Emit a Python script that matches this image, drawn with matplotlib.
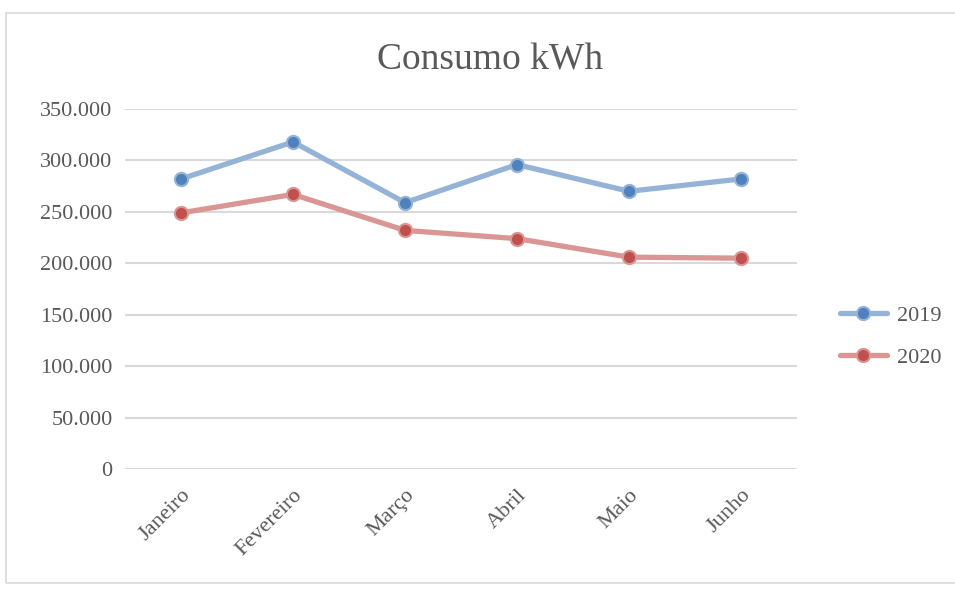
import matplotlib.pyplot as plt
from matplotlib.patches import Rectangle
from matplotlib.ticker import FuncFormatter

plt.rcParams['font.family'] = ['Liberation Serif', 'DejaVu Serif']

meses = ["Janeiro", "Fevereiro", "Março", "Abril", "Maio", "Junho"]
consumo_2019 = [282000, 318000, 259000, 296000, 270000, 282000]
consumo_2020 = [249000, 267000, 232000, 224000, 206000, 205000]

fig = plt.figure(figsize=(9.55, 5.89), dpi=100)
ax = fig.add_axes([0.1309, 0.2037, 0.7037, 0.6112])

# chart frame
fig.patches.append(Rectangle((0.006, 0.01), 1.2, 0.968, transform=fig.transFigure,
                             fill=False, edgecolor='#D9D9D9', linewidth=1.2))

x = range(len(meses))
ax.plot(x, consumo_2019, color='#95B3D7', linewidth=3.8, marker='o', markersize=9.5,
        markerfacecolor='#4F81BD', markeredgecolor='#95B3D7', markeredgewidth=1.5,
        label='2019', solid_capstyle='round')
ax.plot(x, consumo_2020, color='#D99694', linewidth=3.8, marker='o', markersize=9.5,
        markerfacecolor='#C0504D', markeredgecolor='#D99694', markeredgewidth=1.5,
        label='2020', solid_capstyle='round')

ax.set_xlim(-0.5, len(meses) - 0.5)
ax.set_ylim(0, 350000)
ax.set_yticks(range(0, 350001, 50000))
ax.yaxis.set_major_formatter(FuncFormatter(lambda v, p: f"{int(v):,}".replace(",", ".")))
ax.grid(axis='y', color='#D9D9D9', linewidth=1.5)
ax.set_axisbelow(True)
for s in ax.spines.values():
    s.set_visible(False)
ax.tick_params(axis='both', length=0, labelsize=16, colors='#595959')
ax.tick_params(axis='y', pad=9)
ax.set_xticks(list(x))
ax.set_xticklabels(meses, rotation=45, ha='right', rotation_mode='anchor')
ax.tick_params(axis='x', pad=12)

fig.text(0.513, 0.898, "Consumo kWh", ha='center', va='center', fontsize=27, color='#595959')

ax.legend(loc='center left', bbox_to_anchor=(1.034, 0.368), frameon=False, fontsize=16,
          labelcolor='#595959', handlelength=2.1, handletextpad=0.45, labelspacing=0.95)

fig.savefig("out.png", dpi=100)
